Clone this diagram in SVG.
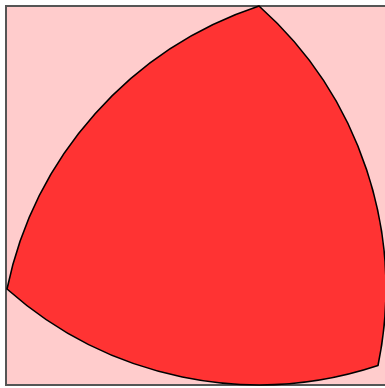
<svg xmlns="http://www.w3.org/2000/svg" width="385" height="388" viewBox="0 0 385 388">
<style>
.sq{fill:#ffcccc;stroke:#555555;stroke-width:2}
.r{fill:#ff3333;stroke:#000000;stroke-width:1.6;stroke-linejoin:miter}
</style>
<rect width="385" height="388" fill="#ffffff"/>
<g id="square"><rect class="sq" x="6" y="6" width="382" height="379"/></g>
<g id="reuleaux"><path class="r" d="M259,6 A379,379 0 0 1 378,365.5 A379,379 0 0 1 7,289 A379,379 0 0 1 259,6 Z"/></g>
</svg>
